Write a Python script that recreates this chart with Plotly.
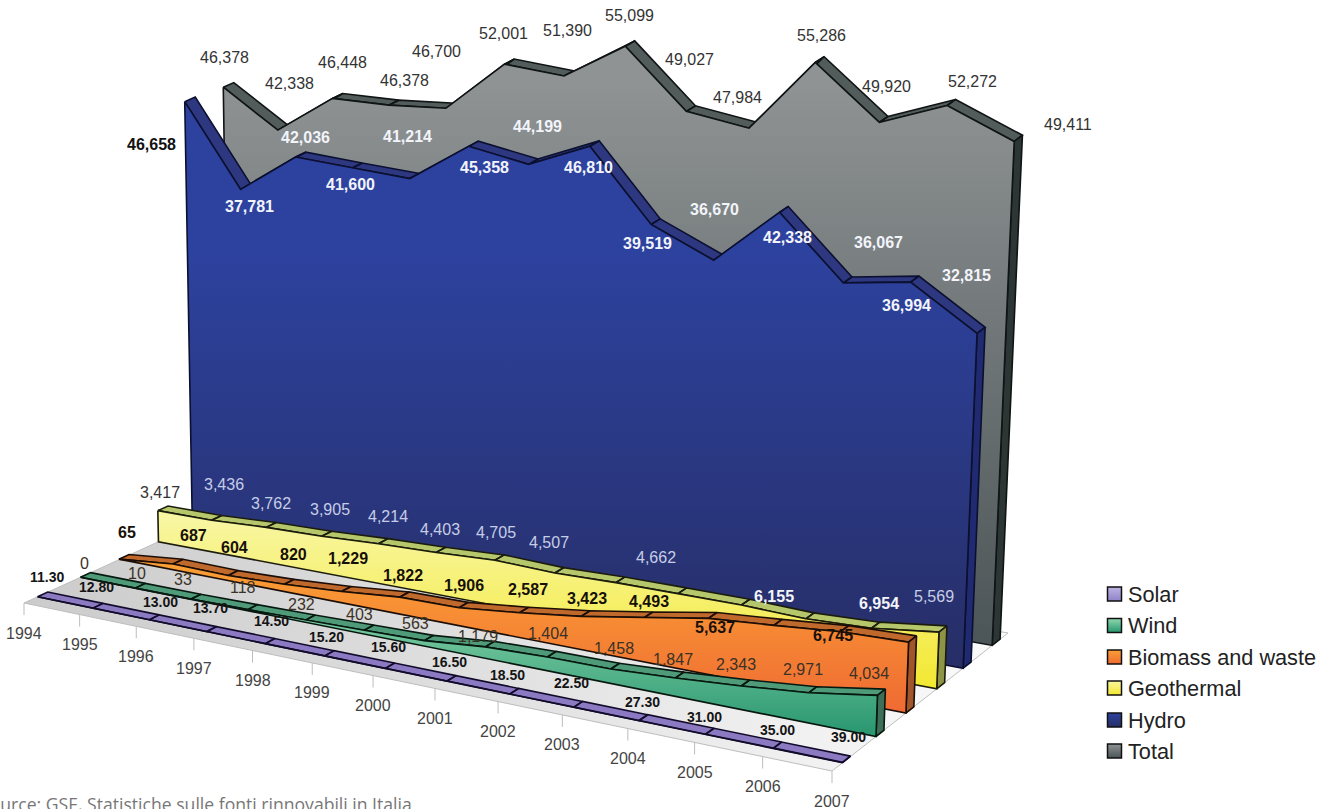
import plotly.graph_objects as go

# Italian renewable electricity output, GWh
years = list(range(1994, 2008))
solar = [11.30, 12.80, 13.00, 13.70, 14.50, 15.20, 15.60, 16.50, 18.50, 22.50, 27.30, 31.00, 35.00, 39.00]
wind = [0, 10, 33, 118, 232, 403, 563, 1179, 1404, 1458, 1847, 2343, 2971, 4034]
biomass = [65, 687, 604, 820, 1229, 1822, 1906, 2587, 3423, 4493, 5637, 6155, 6745, 6954]
geothermal = [3417, 3436, 3762, 3905, 4214, 4403, 4705, 4507, 4662, 4700, 4700, 4500, 4750, 5569]
hydro = [46658, 37781, 42036, 41600, 41214, 45358, 44199, 46810, 39519, 36670, 42338, 36067, 36994, 32815]
total = [46378, 42338, 46448, 46378, 46700, 52001, 51390, 55099, 49027, 47984, 55286, 49920, 52272, 49411]

# Oblique projection of (year index, depth 0..1, value) onto the page
FRONT_L, FRONT_R = (24, 603), (832, 771)
BACK_L, BACK_R = (250, 500), (1008, 633)
YEAR_STRETCH = 1.127
K_LEFT, K_RIGHT = 0.0091, 0.0102
VANISH_X, VANISH_Y = 427, 13560
SLAB = 0.045


def year_pos(t):
    s = t / (len(years) - 1)
    return s / (YEAR_STRETCH - (YEAR_STRETCH - 1) * s)


def project(t, d, v=0):
    u = year_pos(t)
    fx = FRONT_L[0] + u * (FRONT_R[0] - FRONT_L[0])
    fy = FRONT_L[1] + u * (FRONT_R[1] - FRONT_L[1])
    bx = BACK_L[0] + u * (BACK_R[0] - BACK_L[0])
    by = BACK_L[1] + u * (BACK_R[1] - BACK_L[1])
    x0, y0 = fx + (bx - fx) * d, fy + (by - fy) * d
    h = v * (K_LEFT + (K_RIGHT - K_LEFT) * u)
    return x0 + (x0 - VANISH_X) / (VANISH_Y - y0) * h, y0 - h


def polygon(points):
    xs, ys = zip(*points)
    return list(xs) + [xs[0]], list(ys) + [ys[0]]


series = [
    dict(name="Total", values=total, depth=0.91, ribbon="#525c5a", cap="#2b3635",
         grad=("#8f9394", "#4b5456"), span=(80, 650), line="#101414"),
    dict(name="Hydro", values=hydro, depth=0.745, ribbon="#2d3880", cap="#1f2a70",
         grad=("#2d429f", "#272e66"), span=(250, 670), line="#0c1030"),
    dict(name="Geothermal", values=geothermal, depth=0.595, ribbon="#b5c76a", cap="#8e9445",
         grad=("#f8f6a0", "#f3e830"), span=(520, 690), line="#1c1c0c"),
    dict(name="Biomass and waste", values=biomass, depth=0.42, ribbon="#c0692c", cap="#a0562a",
         grad=("#fba035", "#ef6a33"), span=(560, 713), line="#1c0e06"),
    dict(name="Wind", values=wind, depth=0.25, ribbon="#4f9a78", cap="#3d6e58",
         grad=("#8fd8ae", "#27966f"), span=(590, 737), line="#06180f"),
    dict(name="Solar", values=solar, depth=0.06, ribbon="#8b79c2", cap="#5f5290",
         grad=("#bdb4e2", "#8f82c8"), span=(590, 765), line="#120c2a"),
]

fig = go.Figure()
last = len(years) - 1

# Floor
fx, fy = polygon([FRONT_L, FRONT_R, BACK_R, BACK_L])
fig.add_trace(go.Scatter(x=fx, y=fy, mode="lines", fill="toself", line=dict(color="#bdbdbd", width=1),
                         fillgradient=dict(type="horizontal", start=24, stop=1008,
                                           colorscale=[[0, "#cbcbcb"], [0.55, "#e4e4e4"], [1, "#fbfbfb"]]),
                         hoverinfo="skip", showlegend=False))

# Year ticks
for t, yr in enumerate(years):
    px, py = project(t, 0)
    fig.add_trace(go.Scatter(x=[px, px], y=[py, py + 12], mode="lines", line=dict(color="#bdbdbd", width=1),
                             hoverinfo="skip", showlegend=False))

# Slabs, painted from the back of the floor to the front
for s in series:
    v, d = s["values"], s["depth"]
    rx, ry = [], []
    for t in range(last):
        px, py = polygon([project(t, d, v[t]), project(t + 1, d, v[t + 1]),
                          project(t + 1, d + SLAB, v[t + 1]), project(t, d + SLAB, v[t])])
        rx += px + [None]
        ry += py + [None]
    fig.add_trace(go.Scatter(x=rx, y=ry, mode="lines", fill="toself", fillcolor=s["ribbon"],
                             line=dict(color=s["line"], width=1.6), hoverinfo="skip", showlegend=False))
    cx, cy = polygon([project(last, d, v[last]), project(last, d + SLAB, v[last]),
                      project(last, d + SLAB), project(last, d)])
    fig.add_trace(go.Scatter(x=cx, y=cy, mode="lines", fill="toself", fillcolor=s["cap"],
                             line=dict(color=s["line"], width=1.6), hoverinfo="skip", showlegend=False))
    pts = [project(t, d, v[t]) for t in range(len(v))] + [project(t, d) for t in range(last, -1, -1)]
    ax, ay = polygon(pts)
    fig.add_trace(go.Scatter(x=ax, y=ay, mode="lines", fill="toself",
                             fillgradient=dict(type="vertical", start=s["span"][0], stop=s["span"][1],
                                               colorscale=[[0, s["grad"][0]], [1, s["grad"][1]]]),
                             line=dict(color=s["line"], width=1.6), hoverinfo="skip", showlegend=False))

FONT = "Liberation Sans"
annotations = []


def value_label(s, i, text, offset, size, color, bold=False):
    # Label hangs off the top of its mark by a pixel offset (right, down)
    px, py = project(i, s["depth"], s["values"][i])
    annotations.append(dict(x=px, y=py, xref="x", yref="y", xshift=offset[0], yshift=-offset[1],
                            text=f"<b>{text}</b>" if bold else text, showarrow=False,
                            xanchor="center", yanchor="middle",
                            font=dict(family=FONT, size=size, color=color)))


total_off = [(1, -30), (12, -47), (10, -36), (16, -25), (-9, -57), (-1, -31), (3, -46),
             (4, -31), (3, -52), (-12, -31), (6, -27), (7, -36), (25, -24), (54, -17)]
hydro_off = [(-33, 43), (9, 17), (10, -20), (-2, 17), (-2, -42), (16, 21), (9, -38),
             (-1, 21), (-4, 19), (1, -51), (8, 25), (35, -40), (-4, 23), (-11, -58)]
geo_off = {0: (2, -18), 1: (12, -36), 2: (5, -24), 3: (8, -27), 4: (10, -27), 5: (4, -23), 6: (1, -28),
           7: (-6, -31), 8: (40, -25), 13: (-5, -36)}
bio_off = [(8, -27), (21, -28), (6, -28), (9, -30), (7, -33), (3, -22), (5, -22),
           (9, -23), (6, -18), (5, -16), (7, 9), (0, -29), (-8, 4), (-30, -39)]
wind_off = [(4, -14), (2, -15), (-8, -20), (-5, -22), (-4, -16), (-5, -16), (-9, -17),
            (-7, -10), (1, -24), (3, -21), (-2, -18), (-5, -21), (-6, -23), (-8, -22)]
solar_off = [(9, -20), (4, -21), (11, -18), (4, -24), (6, -23), (2, -19), (3, -21),
             (2, -19), (-2, -19), (-2, -24), (3, -19), (-1, -17), (4, -18), (6, -25)]

by_name = {s["name"]: s for s in series}
for i, off in enumerate(total_off):
    value_label(by_name["Total"], i, f"{total[i]:,}", off, 16, "#333333")
for i, off in enumerate(hydro_off):
    value_label(by_name["Hydro"], i, f"{hydro[i]:,}", off, 16, "#111111" if i == 0 else "#f2f4fa", bold=True)
for i, off in geo_off.items():
    value_label(by_name["Geothermal"], i, f"{geothermal[i]:,}", off, 16, "#333333" if i == 0 else "#c6cde6")
for i, off in enumerate(bio_off):
    value_label(by_name["Biomass and waste"], i, f"{biomass[i]:,}", off, 16,
                "#f4f5fa" if i in (11, 13) else "#171008", bold=True)
for i, off in enumerate(wind_off):
    value_label(by_name["Wind"], i, f"{wind[i]:,}", off, 16, "#3a3226")
for i, off in enumerate(solar_off):
    value_label(by_name["Solar"], i, f"{solar[i]:.2f}", off, 14, "#141414", bold=True)

# Year labels hang below the ticks
for t, yr in enumerate(years):
    px, py = project(t, 0)
    annotations.append(dict(x=px, y=py, xref="x", yref="y", yshift=-30, text=str(yr), showarrow=False,
                            xanchor="center", yanchor="middle", font=dict(family=FONT, size=16, color="#444444")))

# Legend
legend_rows = [594, 625.5, 657, 688, 720, 751]
for s, ly in zip(reversed(series), legend_rows):
    fig.add_trace(go.Scatter(x=[1114.5], y=[ly], mode="markers",
                             marker=dict(symbol="square", size=14, color=s["grad"][0],
                                         gradient=dict(type="vertical", color=s["grad"][1]),
                                         line=dict(color="#111111", width=1.5)),
                             hoverinfo="skip", showlegend=False))
    annotations.append(dict(x=1125.5, y=ly, xref="x", yref="y", text=s["name"], showarrow=False,
                            xanchor="left", yanchor="middle", font=dict(family=FONT, size=21.7, color="#222222")))

# Source note, running off the lower left edge of the page
annotations.append(dict(x=-0.0165, y=0.0, xref="paper", yref="paper",
                        text="Source: GSE, Statistiche sulle fonti rinnovabili in Italia",
                        showarrow=False, xanchor="left", yanchor="bottom", yshift=-9,
                        font=dict(family="Open Sans", size=17.6, color="#777777")))

fig.update_layout(width=1333, height=809, margin=dict(l=0, r=0, t=0, b=0), paper_bgcolor="white", plot_bgcolor="white",
                  xaxis=dict(range=[0, 1333], visible=False, fixedrange=True),
                  yaxis=dict(range=[809, 0], visible=False, fixedrange=True),
                  annotations=annotations, showlegend=False)
fig.write_html("out.html")
